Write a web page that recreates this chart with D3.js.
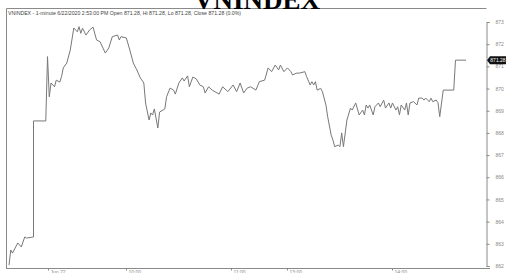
<!DOCTYPE html>
<html>
<head>
<meta charset="utf-8">
<script src="https://d3js.org/d3.v7.min.js"></script>
<style>
  body { margin: 0; background: #fff; }
  svg { display: block; }
</style>
</head>
<body>
<svg width="510" height="273"></svg>
<script>
// trading minute index (lunch break removed) and index value
const minutes = [0, 1, 2, 5, 7, 9, 10, 14, 14, 21, 22, 23, 24, 26, 27, 29, 30, 31, 33, 35,
  37, 39, 40, 41, 42, 44, 46, 48, 50, 52, 55, 57, 59, 62, 63, 64, 67, 69, 71, 73,
  75, 77, 78, 80, 81, 82, 83, 85, 86, 89, 90, 92, 94, 95, 97, 99, 100, 102, 103, 105,
  107, 109, 111, 112, 114, 116, 120, 122, 125, 128, 130, 132, 134, 136, 138, 141, 143, 146, 148, 150,
  152, 154, 155, 157, 159, 161, 162, 164, 166, 169, 170, 172, 173, 174, 175, 176, 178, 179, 181, 182,
  184, 185, 186, 188, 189, 190, 191, 193, 195, 196, 198, 200, 202, 203, 204, 205, 206, 208, 209, 211,
  212, 214, 215, 217, 218, 219, 221, 222, 223, 224, 226, 227, 228, 229, 231, 233, 234, 236, 237, 238,
  240, 241, 242, 244, 245, 246, 248, 254, 255, 261];
const values = [862.04, 862.72, 862.58, 863.04, 862.86, 863.31, 863.26, 863.31, 868.54, 868.54, 871.44, 869.63, 870.25, 870.08, 870.38, 870.29, 870.53, 870.93, 871.15, 871.74,
  872.73, 872.56, 872.79, 872.49, 872.72, 872.41, 872.64, 872.77, 872.19, 872.11, 871.60, 871.83, 872.34, 872.41, 872.19, 872.34, 872.28, 871.74, 871.15, 870.84,
  870.48, 870.25, 869.35, 868.58, 868.90, 868.81, 869.08, 868.22, 868.94, 869.08, 869.63, 870.02, 869.93, 869.75, 870.25, 870.48, 870.34, 870.57, 870.08, 870.52,
  870.43, 870.16, 870.08, 869.80, 870.08, 869.93, 869.75, 870.08, 869.86, 870.16, 869.86, 870.25, 869.80, 870.02, 870.08, 869.93, 870.31, 870.38, 870.93, 870.76,
  871.06, 870.84, 871.06, 870.76, 870.93, 870.76, 870.61, 870.69, 870.70, 870.76, 870.53, 870.16, 870.31, 870.16, 870.31, 869.93, 870.01, 869.86, 869.26, 868.73,
  867.90, 867.68, 867.38, 867.45, 867.38, 868.00, 867.38, 868.58, 869.12, 869.03, 869.35, 868.81, 869.03, 868.81, 869.26, 869.12, 869.26, 868.81, 869.18, 869.35,
  869.18, 869.48, 869.12, 869.35, 869.12, 869.35, 869.03, 869.18, 868.81, 869.26, 869.03, 869.35, 868.81, 869.35, 869.41, 869.26, 869.57, 869.57, 869.48, 869.57,
  869.41, 869.57, 869.41, 869.48, 869.36, 868.73, 869.93, 869.93, 871.28, 871.28];

const yTicks = [862, 863, 864, 865, 866, 867, 868, 869, 870, 871, 872, 873];
const xTickMinutes = [22, 67, 127, 159, 219];
const xTickLabels = ["Jun 22", "10:00", "11:00", "13:00", "14:00"];
const lastValue = 871.28;
const header = "VNINDEX - 1-minute 6/22/2020 2:53:00 PM Open 871.28, Hi 871.28, Lo 871.28, Close 871.28 (0.0%)";

const svg = d3.select("svg");
const frameL = 6, frameR = 486, frameT = 8, frameB = 268;

const x = d3.scaleLinear().domain([0, 261]).range([9, 466]);
const y = d3.scaleLinear().domain([862, 873]).range([266, 22]);

// frame
svg.append("path")
  .attr("d", `M${frameL + 0.5},${frameB + 0.5}V${frameT + 0.5}H${frameR + 0.5}`)
  .attr("fill", "none").attr("stroke", "#8a8a8a").attr("stroke-width", 1);
svg.append("line")
  .attr("x1", frameL).attr("x2", frameR + 4).attr("y1", frameB + 0.5).attr("y2", frameB + 0.5)
  .attr("stroke", "#8a8a8a");

// right axis
const yAxis = svg.append("g").attr("transform", `translate(${frameR + 0.5},0)`)
  .call(d3.axisRight(y).tickValues(yTicks).tickFormat(d3.format("d")).tickSize(3).tickPadding(6));
yAxis.select(".domain").attr("stroke", "#8a8a8a");
yAxis.selectAll(".tick line").attr("stroke", "#8a8a8a");
yAxis.selectAll(".tick text").attr("fill", "#888").attr("font-family", "Liberation Sans, Arial, sans-serif").attr("font-size", 5);

// bottom axis
const xg = svg.append("g").attr("transform", `translate(0,${frameB + 0.5})`);
xTickMinutes.forEach((m, i) => {
  const px = Math.round(x(m)) + 0.5;
  xg.append("line").attr("x1", px).attr("x2", px).attr("y1", 0).attr("y2", 2).attr("stroke", "#8a8a8a");
  xg.append("text").attr("x", px + 2).attr("y", 5)
    .attr("fill", "#888").attr("font-family", "Liberation Sans, Arial, sans-serif").attr("font-size", 5)
    .text(xTickLabels[i]);
});

// price line
const pts = minutes.map((m, i) => [m, values[i]]);
svg.append("path").datum(pts)
  .attr("fill", "none").attr("stroke", "#787878").attr("stroke-width", 1)
  .attr("d", d3.line().x(d => x(d[0])).y(d => y(d[1])));

// last value tag
const ty = y(lastValue);
svg.append("path")
  .attr("d", `M${frameR + 1},${ty} L${frameR + 4},${ty - 4} H${frameR + 20} V${ty + 4} H${frameR + 4} Z`)
  .attr("fill", "#111");
svg.append("text").attr("x", frameR + 12).attr("y", ty + 1.8).attr("text-anchor", "middle")
  .attr("fill", "#fff").attr("font-family", "Liberation Sans, Arial, sans-serif").attr("font-size", 5)
  .text(lastValue.toFixed(2));

// header
svg.append("text").attr("x", 8).attr("y", 15)
  .attr("fill", "#444").attr("font-family", "Liberation Sans, Arial, sans-serif").attr("font-size", 5.2)
  .text(header);

// title (top cut off)
svg.append("text").attr("x", 257).attr("y", 9).attr("text-anchor", "middle")
  .attr("fill", "#000").attr("font-family", "Liberation Serif, Times New Roman, serif")
  .attr("font-weight", "bold").attr("font-size", 27)
  .text("VNINDEX");
</script>
</body>
</html>
